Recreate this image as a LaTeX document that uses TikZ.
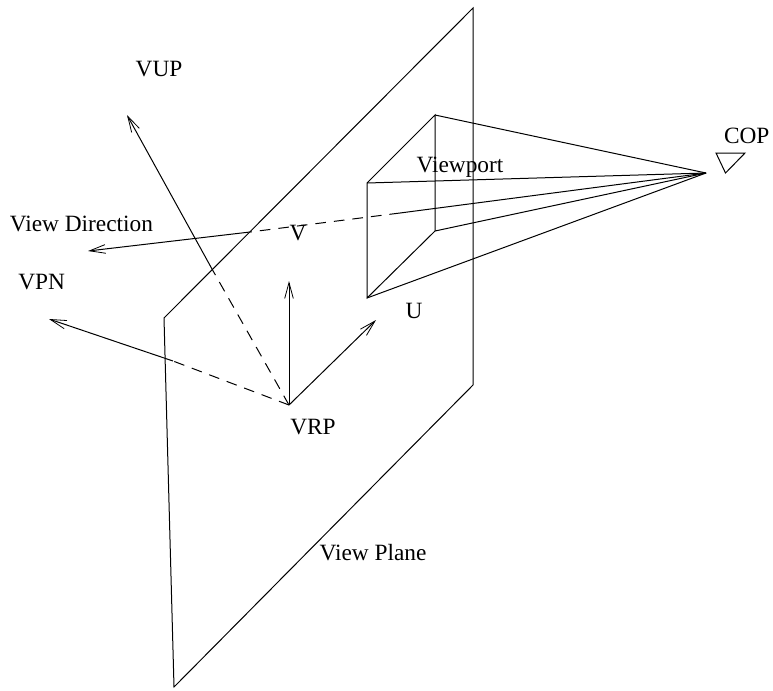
\documentclass[tikz,border=0pt]{standalone}
\usepackage{fontspec}
\setmainfont{Liberation Serif}
\usetikzlibrary{arrows.meta}
\tikzset{
  ln/.style={draw=black,line width=0.75pt,line join=miter},
  arr/.style={ln,-{Straight Barb[length=12pt,width=6.5pt,line width=0.6pt]}},
  dsh/.style={ln,dash pattern=on 8pt off 6pt},
  lbl/.style={font=\fontsize{17.5pt}{20pt}\selectfont,inner sep=0pt,anchor=center,text=black}
}
\begin{document}
\begin{tikzpicture}[x=0.75pt,y=-0.75pt]
\useasboundingbox (0,0) rectangle (773,690);
% plane
\coordinate (P1) at (473,8);
\coordinate (P2) at (473,385);
\coordinate (P3) at (174,687);
\coordinate (P4) at (164,318);
\draw[ln] (P1) -- (P2) -- (P3) -- (P4) -- cycle;
% pyramid
\coordinate (A) at (435,115);
\coordinate (B) at (367,183);
\coordinate (C) at (367,298);
\coordinate (D) at (435,231);
\coordinate (COP) at (706,173);
\draw[ln] (A) -- (B) -- (C) -- (D) -- cycle;
\draw[ln] (COP) -- (A);
\draw[ln] (COP) -- (B);
\draw[ln] (COP) -- (C);
\draw[ln] (COP) -- (D);
% view direction
\coordinate (VS) at (400,213);
\coordinate (VX) at (250,232);
\coordinate (VT) at (88,251);
\draw[ln] (COP) -- (VS);
\draw[dsh] (VS) -- (VX);
\draw[arr] (VX) -- (VT);
% VRP vectors
\coordinate (R) at (289,405);
\coordinate (UPX) at (212,269);
\coordinate (UPT) at (127,115);
\coordinate (NX) at (173,361);
\coordinate (NT) at (49,319);
\coordinate (VVT) at (289,281);
\coordinate (UT) at (376,320);
\draw[dsh] (R) -- (UPX);
\draw[arr] (UPX) -- (UPT);
\draw[dsh] (R) -- (NX);
\draw[arr] (NX) -- (NT);
\draw[arr] (R) -- (VVT);
\draw[arr] (R) -- (UT);
% eye
\coordinate (E1) at (716,153);
\coordinate (E2) at (745,153);
\coordinate (E3) at (725.5,173);
\draw[ln] (E1) -- (E2) -- (E3) -- cycle;
% labels
\node[lbl] (lvup) at (159,69) {VUP};
\node[lbl] (lcop) at (746.7,136) {COP};
\node[lbl] (lvpt) at (460,167) {Viewport};
\node[lbl] (lvd) at (81.4,224) {View Direction};
\node[lbl] (lv) at (298,233.5) {V};
\node[lbl] (lvpn) at (41.7,282.5) {VPN};
\node[lbl] (lu) at (414,311) {U};
\node[lbl] (lvrp) at (313,427) {VRP};
\node[lbl] (lvp) at (373,553) {View Plane};
\end{tikzpicture}
\end{document}
